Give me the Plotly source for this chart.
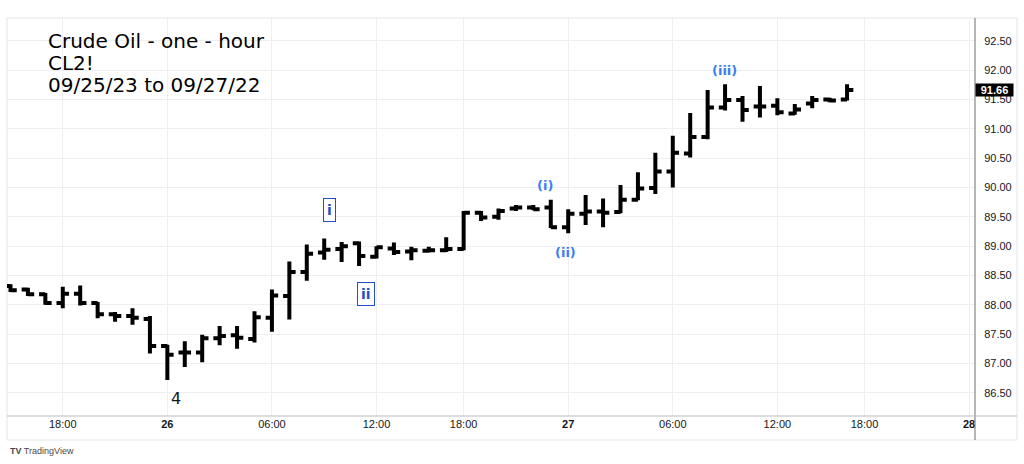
import plotly.graph_objects as go

# TradingView plots hourly bars by bar index (the 17:00 session break is skipped).
# Bar 0 = 18:00 on Sep 25; first visible bar = 15:00 on Sep 25, last = 16:00 on Sep 27.
bar_pos = list(range(-3, 46))

opens = [88.32, 88.26, 88.18, 88.03, 88.19, 88.03, 87.84, 87.81, 87.76, 87.30,
         87.19, 87.19, 87.43, 87.48, 87.42, 87.78, 88.15, 88.56, 88.89, 88.95,
         89.05, 88.82, 88.96, 88.91, 88.92, 88.93, 88.95, 89.57, 89.50, 89.64,
         89.66, 89.66, 89.32, 89.55, 89.59, 89.58, 89.79, 89.99, 90.27, 90.58,
         90.86, 91.36, 91.49, 91.38, 91.39, 91.26, 91.43, 91.50, 91.50]
highs = [88.35, 88.29, 88.20, 88.31, 88.33, 88.05, 87.88, 87.94, 87.81, 87.32,
         87.38, 87.49, 87.64, 87.64, 87.89, 88.26, 88.74, 89.03, 89.13, 89.07,
         89.08, 89.00, 89.06, 88.99, 88.99, 89.15, 89.60, 89.60, 89.64, 89.70,
         89.70, 89.79, 89.63, 89.87, 89.81, 90.04, 90.26, 90.59, 90.88, 91.27,
         91.66, 91.76, 91.56, 91.73, 91.52, 91.42, 91.56, 91.53, 91.76]
lows = [88.22, 88.15, 88.00, 87.94, 87.99, 87.77, 87.71, 87.66, 87.17, 86.72,
        86.94, 87.02, 87.31, 87.25, 87.36, 87.54, 87.75, 88.41, 88.77, 88.73,
        88.66, 88.79, 88.85, 88.76, 88.89, 88.90, 88.93, 89.43, 89.45, 89.60,
        89.61, 89.31, 89.22, 89.36, 89.32, 89.56, 89.78, 89.89, 90.00, 90.51,
        90.82, 91.31, 91.12, 91.19, 91.23, 91.24, 91.35, 91.45, 91.48]
closes = [88.25, 88.18, 88.03, 88.19, 88.03, 87.84, 87.81, 87.78, 87.30, 87.15,
          87.19, 87.43, 87.47, 87.44, 87.79, 88.16, 88.56, 88.87, 88.94, 89.00,
          88.83, 88.98, 88.90, 88.93, 88.93, 88.95, 89.57, 89.49, 89.60, 89.66,
          89.63, 89.32, 89.55, 89.59, 89.57, 89.79, 89.98, 90.27, 90.59, 90.86,
          91.36, 91.49, 91.32, 91.38, 91.28, 91.33, 91.49, 91.48, 91.66]

tick_pos = [0, 6, 12, 18, 23, 29, 35, 41, 46, 52]
tick_text = ["18:00", "<b>26</b>", "06:00", "12:00", "18:00",
             "<b>27</b>", "06:00", "12:00", "18:00", "<b>28</b>"]
price_ticks = [86.5, 87.0, 87.5, 88.0, 88.5, 89.0, 89.5, 90.0, 90.5, 91.0, 91.5, 92.0, 92.5]
last_price = 91.66

title_lines = ["Crude Oil - one - hour", "CL2!", "09/25/23 to 09/27/22"]

TXT = "#131722"
GRID = "#eeeff2"
BOX_BLUE = "#2350c8"
LIGHT_BLUE = "#3d7df2"

fig = go.Figure()
fig.add_trace(go.Ohlc(
    x=bar_pos, open=opens, high=highs, low=lows, close=closes,
    increasing=dict(line=dict(color="#000000", width=4)),
    decreasing=dict(line=dict(color="#000000", width=4)),
    tickwidth=0.36, showlegend=False, hoverinfo="skip",
))

ann = []
# title lines
for k, line in enumerate(title_lines):
    ann.append(dict(xref="paper", yref="paper", x=0.0405, y=(416 - 40.7 - 22.2 * k) / 398,
                    xanchor="left", yanchor="middle", text=line, showarrow=False,
                    font=dict(family="DejaVu Sans", size=20, color="#000000")))

# wave labels
ann.append(dict(x=6.5, y=86.40, text="4", showarrow=False,
                font=dict(family="DejaVu Sans", size=16, color=TXT)))
for txt, xp, yp in [("i", 15.28, 89.62), ("ii", 17.4, 88.19)]:
    ann.append(dict(x=xp, y=yp, text="<b>%s</b>" % txt, showarrow=False, bordercolor=BOX_BLUE,
                    borderwidth=1, borderpad=3, bgcolor="white",
                    font=dict(family="DejaVu Sans", size=14, color=BOX_BLUE)))
for txt, xp, yp in [("(i)", 27.67, 90.03), ("(ii)", 28.82, 88.89), ("(iii)", 37.94, 92.0)]:
    ann.append(dict(x=xp, y=yp, text="<b>%s</b>" % txt, showarrow=False,
                    font=dict(family="DejaVu Sans", size=13, color=LIGHT_BLUE)))

# last price label
ann.append(dict(xref="paper", yref="y", x=1.0, y=last_price, xanchor="left", yanchor="middle",
                text="<b>%.2f</b>" % last_price, showarrow=False, bgcolor="#000000",
                width=37, height=12, borderpad=0,
                font=dict(family="Liberation Sans", size=11, color="#ffffff")))

# TradingView watermark
ann.append(dict(xref="paper", yref="paper", x=(8 - 7) / 968, y=(416 - 451) / 398,
                xanchor="left", yanchor="middle", showarrow=False,
                text="<b>TV</b> TradingView",
                font=dict(family="Liberation Sans", size=9, color="#4a4a4a")))

x_right = (1017 - 7) / 968
y_bottom = (416 - 440) / 398
shapes = [
    dict(type="rect", xref="paper", yref="paper", x0=0, x1=x_right, y0=y_bottom, y1=1,
         line=dict(color="#e3e5ea", width=1), layer="below"),
    dict(type="line", xref="paper", yref="paper", x0=1, x1=1, y0=y_bottom, y1=1,
         line=dict(color="#6b6e75", width=1)),
    dict(type="line", xref="paper", yref="paper", x0=0, x1=x_right, y0=0, y1=0,
         line=dict(color="#b8bbc2", width=1)),
]

fig.update_layout(
    width=1024, height=464,
    margin=dict(l=7, r=49, t=18, b=48),
    paper_bgcolor="white", plot_bgcolor="white",
    annotations=ann, shapes=shapes, showlegend=False,
    xaxis=dict(range=[-3.2, 52.34], tickvals=tick_pos, ticktext=tick_text,
               showgrid=True, gridcolor=GRID, gridwidth=1, zeroline=False,
               showline=False, ticks="", rangeslider=dict(visible=False),
               tickfont=dict(family="Liberation Sans", size=11, color=TXT),
               fixedrange=True),
    yaxis=dict(range=[86.106, 92.887], side="right", tickvals=price_ticks,
               ticktext=["%.2f" % v for v in price_ticks],
               showgrid=True, gridcolor=GRID, gridwidth=1, zeroline=False,
               showline=False, ticks="outside", ticklen=6, tickcolor="rgba(0,0,0,0)",
               tickfont=dict(family="Liberation Sans", size=11, color=TXT),
               fixedrange=True),
)

fig.write_html("out.html", config={"displayModeBar": False})

# remove the browser's default page margin so the figure sits at the window's corner
with open("out.html", "r", encoding="utf-8") as f:
    html = f.read()
html = html.replace("<head>", "<head><style>html,body{margin:0;padding:0;overflow:hidden;}</style>", 1)
with open("out.html", "w", encoding="utf-8") as f:
    f.write(html)
